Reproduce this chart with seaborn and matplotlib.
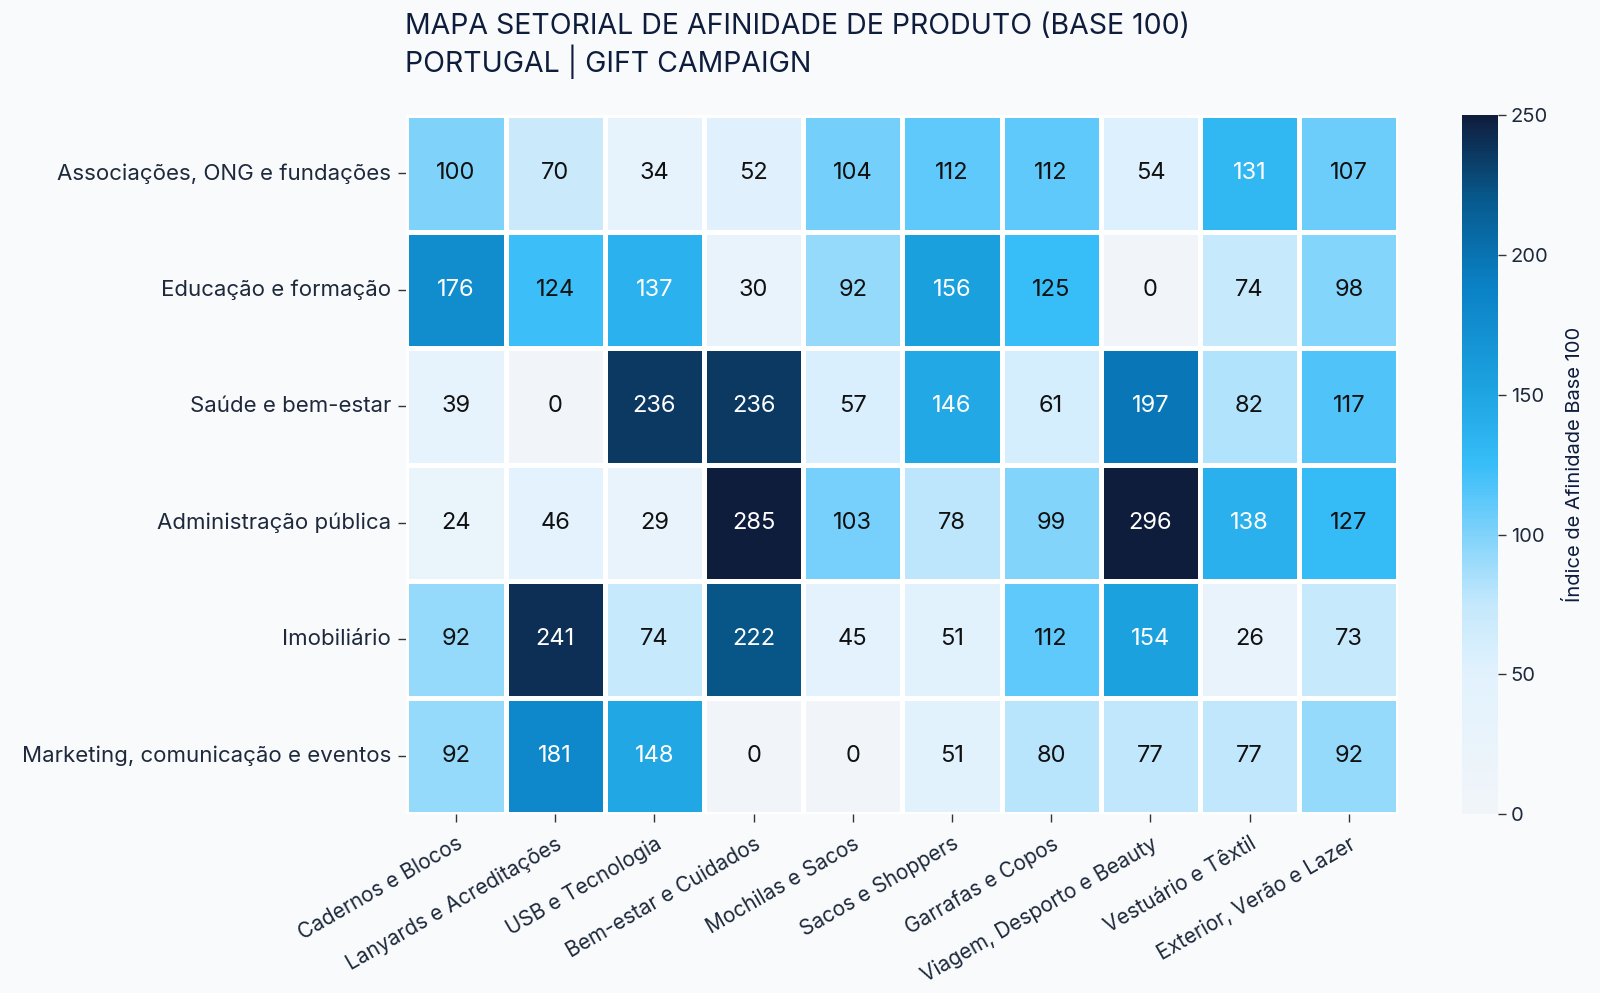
import numpy as np
import pandas as pd
import seaborn as sns
import matplotlib.pyplot as plt
from matplotlib.colors import LinearSegmentedColormap

sectors = ["Associações, ONG e fundações", "Educação e formação", "Saúde e bem-estar",
           "Administração pública", "Imobiliário", "Marketing, comunicação e eventos"]
products = ["Cadernos e Blocos", "Lanyards e Acreditações", "USB e Tecnologia",
            "Bem-estar e Cuidados", "Mochilas e Sacos", "Sacos e Shoppers",
            "Garrafas e Copos", "Viagem, Desporto e Beauty", "Vestuário e Têxtil",
            "Exterior, Verão e Lazer"]
row_assoc = [100, 70, 34, 52, 104, 112, 112, 54, 131, 107]
row_educ = [176, 124, 137, 30, 92, 156, 125, 0, 74, 98]
row_saude = [39, 0, 236, 236, 57, 146, 61, 197, 82, 117]
row_admin = [24, 46, 29, 285, 103, 78, 99, 296, 138, 127]
row_imob = [92, 241, 74, 222, 45, 51, 112, 154, 26, 73]
row_mkt = [92, 181, 148, 0, 0, 51, 80, 77, 77, 92]

title = "MAPA SETORIAL DE AFINIDADE DE PRODUTO (BASE 100)\nPORTUGAL | GIFT CAMPAIGN"
cbar_label = "Índice de Afinidade Base 100"

df = pd.DataFrame([row_assoc, row_educ, row_saude, row_admin, row_imob, row_mkt],
                  index=sectors, columns=products)

sns.set_theme(style="white")
plt.rcParams['font.family'] = ['Inter', 'DejaVu Sans']
bg = "#f8fafc"
navy = "#0f1d3d"

cmap = LinearSegmentedColormap.from_list("sky", [
    (0.0, "#f1f5f9"), (0.2, "#e2f2fd"), (0.3, "#c4e8fc"), (0.4, "#7fd3fb"),
    (0.5, "#38bdf8"), (0.6, "#1ea5e2"), (0.76, "#0a80c4"), (0.88, "#075a8e"),
    (1.0, "#0f1d3d")])

fig = plt.figure(figsize=(16, 9.93), dpi=100, facecolor=bg)
ax = fig.add_axes([0.254, 0.180, 0.620, 0.704])
cax = fig.add_axes([0.914, 0.180, 0.022, 0.704])
ax.set_facecolor(bg)

sns.heatmap(df, ax=ax, cbar_ax=cax, cmap=cmap, vmin=0, vmax=250, annot=True, fmt="d",
            linewidths=2.5, linecolor="white",
            annot_kws={"fontsize": 17},
            cbar_kws={"label": cbar_label})

vals = df.values.flatten()
for t, v in zip(ax.texts, vals):
    t.set_color("white" if v > 130 else "#111111")

ax.tick_params(axis="both", which="both", length=6, width=1, color="#333333",
               labelsize=16, labelcolor="#1e293b", left=True, bottom=True, pad=5)
ax.tick_params(axis="x", pad=8, labelsize=15)
ax.set_xticklabels(ax.get_xticklabels(), rotation=30, ha="right", rotation_mode="anchor")
ax.set_yticklabels(ax.get_yticklabels(), rotation=0)
ax.set_xlabel("")
ax.set_ylabel("")

cax.tick_params(length=6, width=1, color="#333333", labelsize=14.5, labelcolor="#1e293b")
cax.set_ylabel(cbar_label, fontsize=14.5, color=navy, labelpad=12)
cax.set_yticks([0, 50, 100, 150, 200, 250])
for s in cax.spines.values():
    s.set_visible(False)

fig.text(0.253, 0.987, title, ha="left", va="top", fontsize=20.5, color=navy, linespacing=1.15)

fig.savefig("out.png", dpi=100, facecolor=bg)
